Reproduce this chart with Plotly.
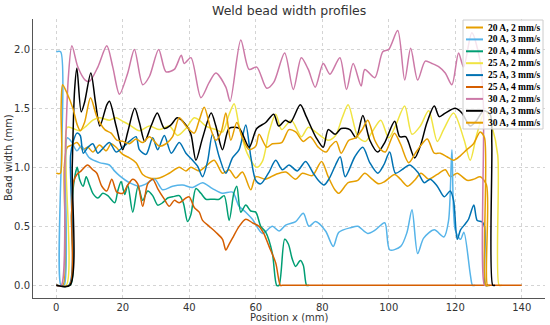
import plotly.graph_objects as go

# ---------------- data ----------------
LABELS = ["20 A, 2 mm/s", "20 A, 3 mm/s", "20 A, 4 mm/s",
          "25 A, 2 mm/s", "25 A, 3 mm/s", "25 A, 4 mm/s",
          "30 A, 2 mm/s", "30 A, 3 mm/s", "30 A, 4 mm/s"]
COLORS = ["#E69F00", "#56B4E9", "#009E73", "#F0E442", "#0072B2",
          "#D55E00", "#CC79A7", "#000000", "#E69F00"]

X_20A_2 = [0, 2.0, 2.4, 3.3, 4.8, 6.2, 8, 9.5, 11, 13, 15, 16.5, 18, 20, 22, 24, 26, 28, 31, 34,
           37, 39, 40.5, 43, 45, 47.5, 50, 52, 54, 56, 58.5, 60, 63, 66, 69, 72, 74, 77, 79.8, 81.8,
           83.8, 85, 87.8, 90.7, 92.8, 95, 97, 98.8, 101.8, 103.5, 105.7, 107.8, 109.7, 112, 114.6,
           117, 118.5, 120.6, 123.6, 125.6, 127.5, 129.4, 129.7, 130.5]
Y_20A_2 = [0, 0, 1.0, 1.17, 1.19, 1.21, 1.15, 1.17, 1.13, 1.19, 1.14, 1.20, 1.17, 1.11, 1.08, 1.04,
           0.94, 0.91, 0.91, 0.95, 1.00, 0.97, 1.00, 0.97, 1.01, 1.06, 0.95, 0.98, 0.91, 0.96, 0.81,
           0.92, 0.90, 0.94, 0.96, 0.90, 0.95, 0.93, 1.05, 0.92, 0.81, 0.78, 0.87, 0.89, 0.95, 0.90,
           0.86, 0.88, 0.94, 0.90, 0.84, 0.89, 0.95, 0.90, 0.94, 0.98, 0.92, 0.95, 0.89, 0.90, 0.92,
           0.85, 0, 0]

X_20A_3 = [0, 1.3, 1.4, 2.4, 2.8, 3.3, 4.5, 6.2, 7.5, 10, 13, 16, 17.5, 19, 22, 25, 27, 29.6, 32, 35,
           38, 41, 44, 47, 50, 53, 55, 57, 59, 62, 65, 67, 69, 72, 74.3, 76, 78, 81, 83.3, 85, 88.7,
           90.7, 93.7, 96, 98.8, 100.3, 103.6, 105.5, 107, 108.7, 110.5, 113.7, 116.6, 118, 119, 120,
           121.6, 122.6, 124.5, 125.2, 126]
Y_20A_3 = [1.98, 1.98, 0, 0, 1.0, 1.25, 1.22, 1.14, 1.18, 1.08, 1.04, 1.02, 0.97, 0.93, 0.87, 0.84,
           0.86, 0.90, 0.81, 0.84, 0.85, 0.83, 0.87, 0.82, 0.78, 0.79, 0.67, 0.62, 0.56, 0.44, 0.50,
           0.46, 0.51, 0.54, 0.61, 0.50, 0.54, 0.46, 0.33, 0.45, 0.49, 0.50, 0.44, 0.47, 0.53, 0.30,
           0.33, 0.45, 0.64, 0.27, 0.40, 0.47, 0.41, 0.55, 1.15, 0.47, 0.39, 0.45, 0.10, 0, 0]

X_20A_4 = [0, 4.2, 4.6, 5.2, 6.3, 7, 8.1, 9, 10, 11, 12.5, 14, 15.5, 17.6, 18.5, 19.5, 20.6, 21.5, 23,
           24.6, 26, 27.5, 29, 30.5, 32, 33.5, 35, 37, 38.2, 39.5, 40.5, 42, 43.5, 45, 47, 49, 50.5,
           52, 53.4, 54.3, 55.5, 57, 58.5, 60, 61.5, 63, 65, 66.3, 67, 68.7, 69.8, 71, 72, 73.4, 74.3,
           75.3, 76]
Y_20A_4 = [0, 0, 0.6, 0.85, 1.00, 0.90, 0.84, 0.92, 0.85, 0.78, 0.74, 0.78, 0.76, 0.70, 0.80, 0.88,
           0.77, 0.85, 0.62, 0.84, 0.72, 0.80, 0.76, 0.68, 0.70, 0.74, 0.75, 0.76, 0.70, 0.54, 0.60,
           0.82, 0.78, 0.73, 0.73, 0.73, 0.76, 0.55, 0.78, 0.84, 0.62, 0.68, 0.63, 0.62, 0.50, 0.45,
           0.27, 0, 0, 0.39, 0.35, 0.22, 0.16, 0.21, 0.17, 0, 0]

X_25A_2 = [0, 3.0, 3.3, 5, 7, 9, 11, 13, 16, 18, 20, 22, 25, 28, 31, 34, 36.5, 39, 41.5, 43, 45, 48,
           50, 52, 53.5, 55, 57.4, 60.3, 62, 64, 66, 67.8, 70.7, 73.7, 75.8, 78, 81.8, 84, 86, 87.8,
           90.7, 93, 95, 97.6, 100, 102, 104.8, 107, 109.5, 112, 114.6, 116.5, 119.5, 122.7, 124.5,
           126.5, 129, 131, 132.8, 133.2, 134]
Y_25A_2 = [0, 0, 1.34, 1.33, 1.31, 1.35, 1.40, 1.42, 1.40, 1.42, 1.39, 1.36, 1.31, 1.35, 1.32, 1.35,
           1.27, 1.33, 1.42, 1.40, 1.35, 1.32, 1.30, 1.45, 1.54, 1.35, 1.12, 1.00, 1.05, 1.30, 1.45,
           1.32, 1.40, 1.26, 1.34, 1.30, 1.23, 1.27, 1.42, 1.53, 1.26, 1.22, 1.30, 1.40, 1.25, 1.35,
           1.52, 1.28, 1.35, 1.48, 1.22, 1.32, 1.46, 1.23, 1.06, 1.28, 1.48, 1.35, 1.10, 0, 0]

X_25A_3 = [0, 3.8, 4.3, 5.1, 6.2, 7.2, 8.1, 9.5, 11, 12.5, 14, 16, 18, 20, 22, 24, 25, 27, 29, 30.5,
           32.5, 34.6, 37, 39, 41, 42.5, 44, 45.5, 47, 49, 51, 53, 55, 57, 58.5, 60, 61.5, 64, 66, 68,
           70, 72.5, 75, 77.3, 78.8, 80.5, 82, 84, 85.4, 86.9, 89.8, 92.2, 94.3, 96.7, 98.5, 100.3,
           102, 104, 106.3, 108.7, 110.7, 112.5, 114.6, 116.7, 118.5, 119.5, 120.6, 121.6, 123, 124,
           125.6, 126.6, 128, 128.8, 129.1, 130]
Y_25A_3 = [0, 0, 1.1, 1.22, 1.29, 1.27, 1.12, 1.17, 1.20, 1.12, 1.16, 1.21, 1.13, 1.17, 1.22, 1.26,
           1.15, 1.11, 1.25, 1.15, 1.27, 1.12, 1.21, 1.12, 1.06, 1.01, 0.92, 1.05, 1.28, 1.09, 0.95,
           1.08, 1.15, 1.36, 1.09, 0.89, 0.86, 0.96, 1.06, 0.98, 1.02, 0.97, 1.05, 0.95, 0.89, 0.85,
           0.90, 1.02, 1.09, 0.92, 1.09, 1.17, 1.04, 0.95, 1.02, 1.13, 0.95, 0.98, 1.02, 0.96, 0.87,
           0.90, 0.84, 0.75, 0.80, 0.72, 0.39, 0.47, 0.52, 0.56, 0.68, 0.55, 0.54, 0.50, 0, 0]

X_25A_4 = [0, 4.0, 4.6, 5.2, 6.2, 7.5, 9.4, 11, 12.2, 13.7, 15.2, 16.7, 18.2, 20, 21.5, 23, 24.5, 26,
           27.5, 29, 30.5, 32.5, 34, 35.5, 37, 39, 40, 41.5, 43, 44, 46, 48, 50, 51, 52, 53, 55, 57,
           59, 61, 62.4, 64, 66, 67.4, 68, 140]
Y_25A_4 = [0, 0, 0.6, 0.88, 0.94, 0.97, 1.02, 0.98, 0.95, 0.84, 0.80, 0.90, 0.79, 0.78, 0.85, 0.90,
           0.86, 0.67, 0.86, 0.90, 0.82, 0.73, 0.67, 0.72, 0.70, 0.74, 0.75, 0.66, 0.62, 0.55, 0.50,
           0.45, 0.39, 0.30, 0.35, 0.40, 0.50, 0.56, 0.53, 0.50, 0.44, 0.33, 0.19, 0, 0, 0]

X_30A_2 = [0, 1.5, 2.6, 3.6, 4.7, 6.5, 8.7, 10, 12.5, 15.2, 17, 19, 21.5, 23.5, 26, 28, 30.8, 33, 35.5,
           37.6, 38.5, 40.5, 43.5, 46, 48, 51, 52.3, 55.5, 58, 60.3, 63.3, 65.4, 68.7, 71.3, 73.7,
           75.8, 77.9, 80.3, 82.3, 85.3, 87.3, 89.3, 91.7, 92.8, 95.8, 98.2, 100, 102.7, 104.8, 106.6,
           108.7, 111, 113, 115.2, 117, 119, 121, 122.5, 125, 127.5, 128.5, 128.8, 129.5]
Y_30A_2 = [0, 0, 1.0, 1.75, 2.03, 1.85, 1.74, 1.73, 1.85, 2.03, 1.85, 1.62, 1.80, 2.00, 1.70, 1.77,
           2.00, 1.81, 1.83, 1.95, 1.88, 1.93, 1.59, 1.72, 1.80, 1.68, 1.56, 2.08, 1.83, 1.85, 1.67,
           1.72, 1.97, 1.66, 1.93, 1.83, 1.68, 1.88, 1.79, 1.93, 1.66, 1.88, 1.69, 1.83, 1.76, 1.98,
           2.00, 2.16, 1.74, 2.01, 1.74, 1.90, 1.88, 1.85, 1.80, 1.70, 1.97, 1.85, 2.14, 1.90, 1.5, 0, 0]

X_30A_3 = [0, 4.1, 4.8, 5.5, 6.2, 7.5, 8.5, 10.4, 11.8, 13.1, 15.2, 16, 18, 20, 21.5, 23.6, 25, 26.6,
           28.5, 30.4, 32.5, 34.5, 36.4, 39, 40.5, 42, 44, 46.6, 48, 50, 52, 55, 58, 60.3, 63, 65.4,
           66.9, 68.9, 70.4, 73.4, 75.2, 78.2, 80.3, 81.8, 83.9, 85.7, 88.3, 90.2, 92.2, 94.3, 96.7,
           98.8, 101.8, 103.3, 105.1, 107.8, 109.6, 111.5, 113.7, 115.2, 117, 120, 122, 124.5, 126.5,
           128.5, 130.5, 131, 131.3, 132]
Y_30A_3 = [0, 0, 1.0, 1.65, 1.84, 1.47, 1.55, 1.80, 1.55, 1.35, 1.53, 1.56, 1.35, 1.15, 1.30, 1.50,
           1.38, 1.22, 1.35, 1.46, 1.33, 1.36, 1.42, 1.36, 1.28, 1.06, 1.25, 1.46, 1.35, 1.15, 1.33,
           1.33, 1.17, 1.33, 1.38, 1.45, 1.35, 1.40, 1.38, 1.53, 1.43, 1.25, 1.17, 1.32, 1.28, 1.33,
           1.32, 1.25, 1.44, 1.23, 1.13, 1.21, 1.39, 1.26, 1.26, 1.08, 1.19, 1.38, 1.52, 1.43, 1.46,
           1.50, 1.46, 1.35, 1.40, 1.48, 1.45, 1.2, 0, 0]

X_30A_4 = [0, 1.2, 1.45, 1.9, 3.2, 5, 6.3, 7.2, 8.5, 10.3, 12.2, 14.6, 16.5, 18.2, 20, 22, 24, 26, 28,
           31, 33, 35, 37, 39, 41.5, 43, 44.5, 46.5, 48, 49.6, 51, 52.5, 54.3, 56, 58, 60, 61, 63.3,
           65, 67.8, 70, 72, 74.3, 76.4, 78.8, 81.2, 82.5, 84.2, 85.7, 88, 90, 92, 93.7, 95.8, 97.6,
           99, 101.7, 103.5, 106, 108, 109.5, 111.6, 113.7, 115.5, 117.5, 119.5, 121.6, 123.5, 125.5,
           127.5, 128.8, 129.2, 130]
Y_30A_4 = [0.95, 0.95, 1.5, 1.70, 1.63, 1.50, 1.36, 1.31, 1.38, 1.59, 1.43, 1.32, 1.29, 1.23, 1.22,
           1.20, 1.24, 1.21, 1.26, 1.18, 1.20, 1.26, 1.42, 1.35, 1.29, 1.40, 1.51, 1.32, 1.23, 1.30,
           1.46, 1.23, 1.38, 1.25, 1.15, 1.18, 1.28, 1.17, 1.20, 1.21, 1.32, 1.30, 1.22, 1.26, 1.17,
           1.13, 1.18, 1.22, 1.12, 1.23, 1.25, 1.32, 1.40, 1.23, 1.15, 1.13, 1.29, 1.20, 1.04, 1.12,
           1.18, 1.24, 1.12, 1.12, 1.09, 1.06, 1.10, 1.15, 1.20, 1.30, 1.25, 0, 0]

XS = [X_20A_2, X_20A_3, X_20A_4, X_25A_2, X_25A_3, X_25A_4, X_30A_2, X_30A_3, X_30A_4]
YS = [Y_20A_2, Y_20A_3, Y_20A_4, Y_25A_2, Y_25A_3, Y_25A_4, Y_30A_2, Y_30A_3, Y_30A_4]
for xs, ys, lab in zip(XS, YS, LABELS):
    assert len(xs) == len(ys), (lab, len(xs), len(ys))

X_TICKS = [0, 20, 40, 60, 80, 100, 120, 140]
Y_TICKS = [0.0, 0.5, 1.0, 1.5, 2.0]

# ---------------- figure ----------------
W, H = 550, 325
PL, PR, PT, PB = 33, 545, 19, 298   # plot area in pixels


def pxx(px):
    return (px - PL) / (PR - PL)


def pxy(py):
    return (PB - py) / (PB - PT)


fig = go.Figure()
for xs, ys, lab, col in zip(XS, YS, LABELS, COLORS):
    fig.add_trace(go.Scatter(x=xs, y=ys, mode="lines", name=lab,
                             line=dict(color=col, width=1.5, shape="spline", smoothing=0.8),
                             showlegend=False))

axis_font = dict(family="DejaVu Sans", size=10, color="#333333")
fig.update_layout(
    width=W, height=H, autosize=False,
    margin=dict(l=PL, r=W - PR, t=PT, b=H - PB, pad=0),
    paper_bgcolor="white", plot_bgcolor="white",
    xaxis=dict(range=[-7, 147], tickvals=X_TICKS, ticktext=[str(v) for v in X_TICKS],
               showline=True, linecolor="#555555", linewidth=1, mirror=False,
               showgrid=True, gridcolor="#d4d4d4", gridwidth=0.8, griddash="dot",
               zeroline=False, ticks="", tickfont=axis_font, automargin=False),
    yaxis=dict(range=[-0.1075, 2.2575], tickvals=Y_TICKS, ticktext=[f"{v:.1f}" for v in Y_TICKS],
               showline=True, linecolor="#555555", linewidth=1, mirror=False,
               showgrid=True, gridcolor="#d4d4d4", gridwidth=0.8, griddash="dot",
               zeroline=False, ticks="", tickfont=axis_font, automargin=False),
    showlegend=False,
)

annotations = [
    dict(text="Weld bead width profiles", xref="paper", yref="paper",
         x=pxx((PL + PR) / 2), y=pxy(10), xanchor="center", yanchor="middle", showarrow=False,
         font=dict(family="DejaVu Sans", size=12.5, color="#333333")),
    dict(text="Position x (mm)", xref="paper", yref="paper",
         x=pxx((PL + PR) / 2), y=pxy(317), xanchor="center", yanchor="middle", showarrow=False,
         font=axis_font),
    dict(text="Bead width (mm)", xref="paper", yref="paper", textangle=-90,
         x=pxx(8), y=pxy(158), xanchor="center", yanchor="middle", showarrow=False,
         font=axis_font),
]

# custom compact legend (upper right)
box_l, box_r, box_t, box_b = 463, 543, 20, 129
shapes = [dict(type="rect", xref="paper", yref="paper",
               x0=pxx(box_l), x1=pxx(box_r), y0=pxy(box_b), y1=pxy(box_t),
               fillcolor="rgba(255,255,255,0.8)", line=dict(color="#cccccc", width=1),
               layer="above")]
row0, step = 27.5, 11.9
for i, (lab, col) in enumerate(zip(LABELS, COLORS)):
    yy = pxy(row0 + i * step)
    shapes.append(dict(type="line", xref="paper", yref="paper",
                       x0=pxx(466), x1=pxx(483), y0=yy, y1=yy,
                       line=dict(color=col, width=2), layer="above"))
    annotations.append(dict(text="<b>" + lab + "</b>", xref="paper", yref="paper",
                            x=pxx(487), y=yy, xanchor="left", yanchor="middle",
                            showarrow=False, borderpad=0,
                            font=dict(family="Liberation Serif", size=9.5, color="black")))
fig.update_layout(shapes=shapes, annotations=annotations)

# the page's default 8px body margin would shift the 550x325 figure out of the window
fig.write_html("out.html", config={"displayModeBar": False},
               post_script="document.body.style.margin='0px';")
